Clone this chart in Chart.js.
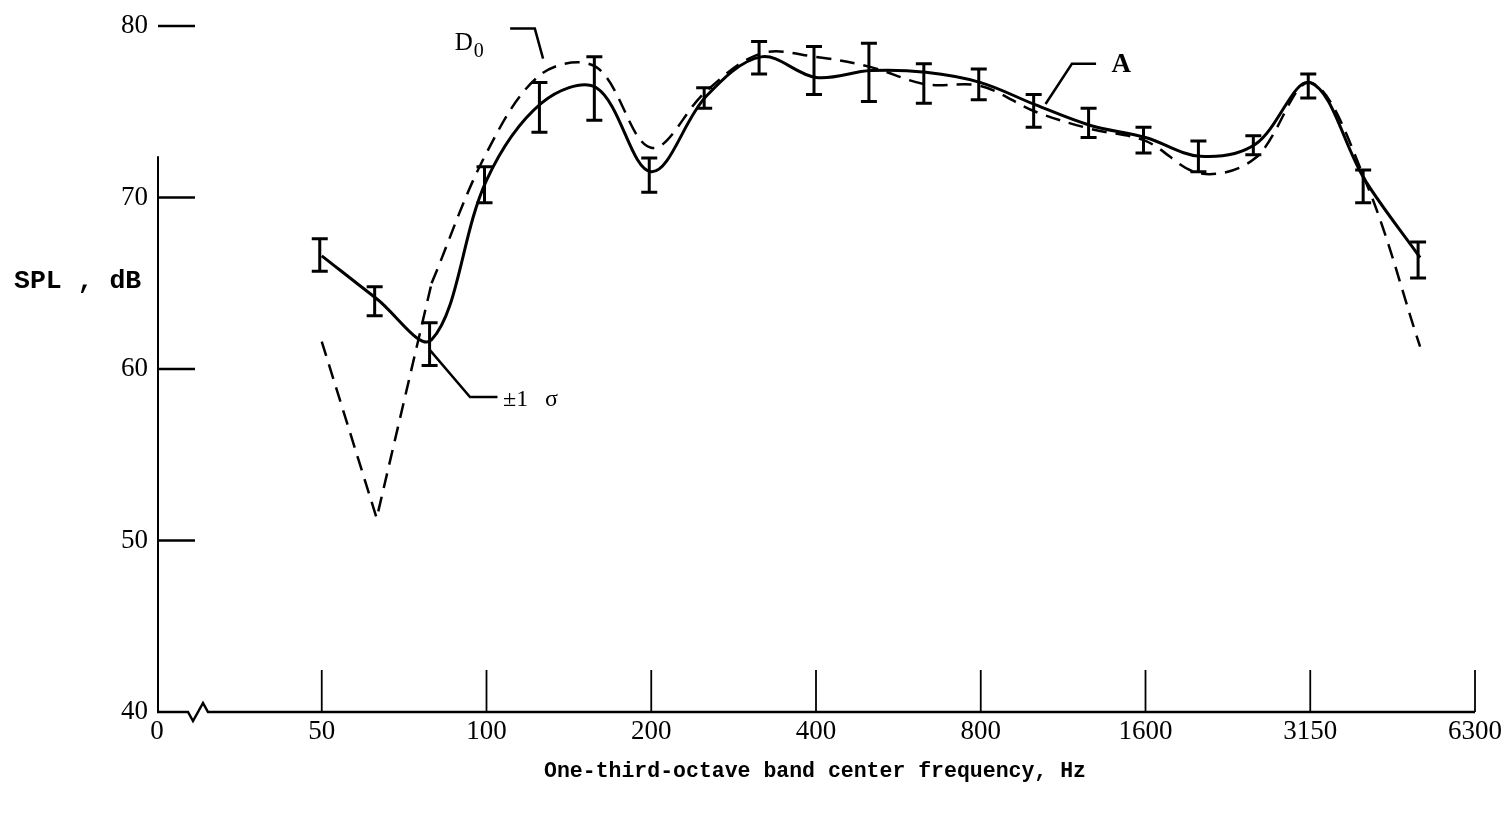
<!DOCTYPE html>
<html>
<head>
<meta charset="utf-8">
<script src="https://cdn.jsdelivr.net/npm/chart.js@4"></script>
<style>
  html, body { margin: 0; padding: 0; background: #fff; }
  #wrap { width: 1511px; height: 817px; }
</style>
</head>
<body>
<div id="wrap"><canvas id="chart" width="1511" height="817"></canvas></div>
<script>
// one-third-octave bands, plotted by band index (50 Hz = 0)
const bands = [50, 63, 80, 100, 125, 160, 200, 250, 315, 400, 500, 630, 800, 1000, 1250, 1600, 2000, 2500, 3150, 4000, 5000];
const meanA = [66.6, 64.1, 61.7, 71.0, 75.5, 76.4, 71.5, 75.9, 78.2, 77.0, 77.4, 77.3, 76.7, 75.4, 74.2, 73.5, 72.4, 73.1, 76.7, 71.0, 66.5];
const sigmaTop = [67.6, 64.8, 62.7, 71.8, 76.7, 78.2, 72.3, 76.4, 79.1, 78.8, 79.0, 77.8, 77.5, 76.0, 75.2, 74.1, 73.3, 73.6, 77.2, 71.6, 67.4];
const sigmaBottom = [65.7, 63.1, 60.2, 69.7, 73.8, 74.5, 70.3, 75.2, 77.2, 76.0, 75.6, 75.5, 75.7, 74.1, 73.5, 72.6, 71.5, 72.5, 75.8, 69.7, 65.3];
const d0 = [61.6, 51.3, 65.0, 72.6, 77.2, 77.6, 72.9, 76.2, 78.4, 78.2, 77.6, 76.6, 76.5, 75.0, 74.0, 73.3, 71.4, 72.3, 76.7, 71.0, 61.3];

const xTickPos = [-3, 0, 3, 6, 9, 12, 15, 18, 21];
const xTickLabels = ["0", "50", "100", "200", "400", "800", "1600", "3150", "6300"];
const yTicks = [40, 50, 60, 70, 80];

const numFont = "Liberation Serif";
const typeFont = "Liberation Mono";

const pts = (arr, from, to) =>
  arr.slice(from, to).map((v, i) => ({ x: from + i, y: v }));

// axes, break mark, error bars and labels
const decor = {
  id: "decor",
  afterDatasetsDraw(chart) {
    const { ctx, chartArea: a, scales: { x, y } } = chart;
    ctx.save();
    ctx.strokeStyle = "#000";
    ctx.fillStyle = "#000";
    ctx.lineCap = "butt";

    // y axis line (only lower part, as in the scan)
    ctx.lineWidth = 2;
    ctx.beginPath();
    ctx.moveTo(a.left + 1, y.getPixelForValue(72.4));
    ctx.lineTo(a.left + 1, a.bottom);
    ctx.stroke();

    // y tick dashes
    ctx.lineWidth = 2.5;
    yTicks.forEach((t) => {
      if (t === 40) return;
      const py = y.getPixelForValue(t);
      ctx.beginPath();
      ctx.moveTo(a.left + 1, py);
      ctx.lineTo(a.left + 38, py);
      ctx.stroke();
    });

    // x axis with break symbol
    const by = a.bottom;
    ctx.lineWidth = 2.5;
    ctx.beginPath();
    ctx.moveTo(a.left, by);
    ctx.lineTo(a.left + 31, by);
    ctx.lineTo(a.left + 36, by + 9);
    ctx.lineTo(a.left + 46, by - 9);
    ctx.lineTo(a.left + 51, by);
    ctx.lineTo(a.right, by);
    ctx.stroke();

    // x ticks
    ctx.lineWidth = 1.8;
    xTickPos.forEach((t) => {
      if (t === xTickPos[0]) return;
      const px = x.getPixelForValue(t);
      ctx.beginPath();
      ctx.moveTo(px, by);
      ctx.lineTo(px, by - 42);
      ctx.stroke();
    });

    // ±1 sigma bars
    ctx.lineWidth = 3;
    bands.forEach((b, i) => {
      const px = x.getPixelForValue(i) - 2;
      const t = y.getPixelForValue(sigmaTop[i]);
      const bt = y.getPixelForValue(sigmaBottom[i]);
      ctx.beginPath();
      ctx.moveTo(px, t);
      ctx.lineTo(px, bt);
      ctx.moveTo(px - 8, t);
      ctx.lineTo(px + 8, t);
      ctx.moveTo(px - 8, bt);
      ctx.lineTo(px + 8, bt);
      ctx.stroke();
    });

    // leader lines
    const leader = (p) => {
      ctx.beginPath();
      p.forEach(([vx, vy], k) => {
        const px = x.getPixelForValue(vx), py = y.getPixelForValue(vy);
        k ? ctx.lineTo(px, py) : ctx.moveTo(px, py);
      });
      ctx.stroke();
    };
    ctx.lineWidth = 2.5;
    leader([[3.43, 79.85], [3.88, 79.85], [4.03, 78.1]]);
    leader([[13.18, 75.45], [13.66, 77.8], [14.1, 77.8]]);
    leader([[1.97, 61.1], [2.7, 58.37], [3.2, 58.37]]);

    // labels
    ctx.textBaseline = "alphabetic";
    ctx.textAlign = "left";
    const dx = x.getPixelForValue(2.42);
    ctx.font = "25px " + numFont;
    ctx.fillText("D", dx, y.getPixelForValue(78.6));
    ctx.font = "20px " + numFont;
    ctx.fillText("0", dx + 19, y.getPixelForValue(78.2));
    ctx.font = "bold 27px " + numFont;
    ctx.fillText("A", x.getPixelForValue(14.38), y.getPixelForValue(77.3));
    ctx.font = "24px " + numFont;
    ctx.fillText("\u00b11", x.getPixelForValue(3.3), y.getPixelForValue(57.85));
    ctx.font = "24px " + numFont;
    ctx.fillText("\u03c3", x.getPixelForValue(3.3) + 42, y.getPixelForValue(57.85));

    // axis titles
    ctx.font = "bold 26.5px " + typeFont;
    ctx.textAlign = "left";
    ctx.textBaseline = "middle";
    ctx.fillText("SPL , dB", 14, y.getPixelForValue(65.1));
    ctx.font = "bold 21.5px " + typeFont;
    ctx.textAlign = "center";
    ctx.fillText("One-third-octave band center frequency, Hz", 815, 772);
    ctx.restore();
  }
};

new Chart(document.getElementById("chart"), {
  type: "line",
  data: {
    datasets: [
      {
        label: "A",
        data: pts(meanA, 0, meanA.length),
        borderColor: "#000",
        borderWidth: 3,
        tension: 0.35,
        pointRadius: 0,
        fill: false,
      },
      {
        label: "D0",
        data: pts(d0, 0, 3),
        borderColor: "#000",
        borderWidth: 2.5,
        borderDash: [15, 9],
        tension: 0,
        pointRadius: 0,
        fill: false,
      },
      {
        label: "D0 upper",
        data: pts(d0, 2, d0.length),
        borderColor: "#000",
        borderWidth: 2.5,
        borderDash: [15, 9],
        tension: 0.35,
        pointRadius: 0,
        fill: false,
      },
    ],
  },
  plugins: [decor],
  options: {
    responsive: false,
    animation: false,
    layout: { padding: { top: 26, right: 36, left: 0, bottom: 0 } },
    plugins: { legend: { display: false }, tooltip: { enabled: false } },
    scales: {
      x: {
        type: "linear",
        min: -3,
        max: 21,
        afterFit: (s) => { s.height = 105; },
        afterBuildTicks: (s) => { s.ticks = xTickPos.map((v) => ({ value: v })); },
        grid: { display: false, drawTicks: false },
        border: { display: false },
        ticks: {
          padding: 4,
          color: "#000",
          font: { family: numFont, size: 27 },
          callback: (v) => xTickLabels[xTickPos.indexOf(v)],
        },
      },
      y: {
        min: 40,
        max: 80,
        afterFit: (s) => { s.width = 157; },
        afterBuildTicks: (s) => { s.ticks = yTicks.map((v) => ({ value: v })); },
        grid: { display: false, drawTicks: false },
        border: { display: false },
        ticks: {
          padding: 9,
          color: "#000",
          font: { family: numFont, size: 27 },
        },
      },
    },
  },
});
</script>
</body>
</html>
